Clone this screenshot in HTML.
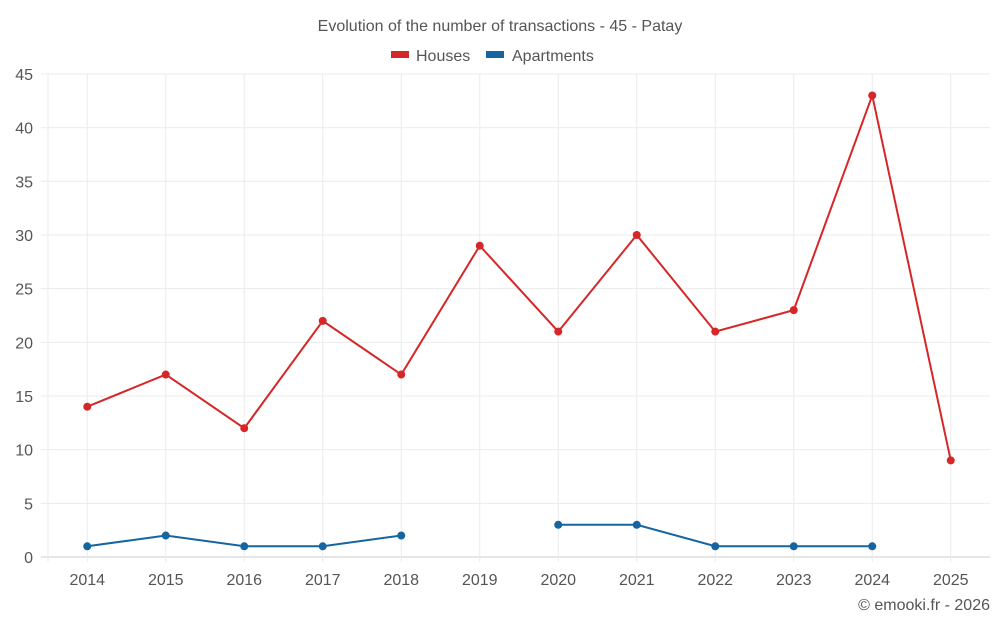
<!DOCTYPE html>
<html><head><meta charset="utf-8"><style>
body{margin:0;background:#fff;font-family:"Liberation Sans",Roboto,sans-serif}
svg text{font-family:"Liberation Sans",sans-serif}
</style></head><body>
<svg id="chart" width="1000" height="625">
<text x="500" y="31" text-anchor="middle" font-size="16" fill="#555">Evolution of the number of transactions - 45 - Patay</text>
<g>
<g><rect x="391" y="51" width="18" height="7" fill="#d62728"/><text x="416" y="61" font-size="16" fill="#555">Houses</text></g>
<g><rect x="486" y="51" width="18" height="7" fill="#1565a0"/><text x="512" y="61" font-size="16" fill="#555">Apartments</text></g>
</g>
<g id="grid"></g><g id="axes"></g><g id="series"></g>
<text x="990" y="610" text-anchor="end" font-size="16" fill="#555">© emooki.fr - 2026</text>
</svg>
<script>
const categories=["2014","2015","2016","2017","2018","2019","2020","2021","2022","2023","2024","2025"];
const houses=[14,17,12,22,17,29,21,30,21,23,43,9];
const apartments=[1,2,1,1,2,null,3,3,1,1,1,null];
const yTicks=[0,5,10,15,20,25,30,35,40,45];
const NS="http://www.w3.org/2000/svg";
const L=48,R=990,T=74,B=557,yMax=45;
const bw=(R-L)/categories.length;
const x=i=>L+bw*(i+0.5);
const y=v=>B-(v/yMax)*(B-T);
function mk(tag,attrs,parent,txt){const e=document.createElementNS(NS,tag);for(const k in attrs)e.setAttribute(k,attrs[k]);if(txt!=null)e.textContent=txt;parent.appendChild(e);return e;}
const grid=document.getElementById('grid'),axes=document.getElementById('axes'),ser=document.getElementById('series');
yTicks.forEach(t=>{
const g=mk('line',{x1:41,x2:R,y1:y(t),y2:y(t),stroke:t===0?'#ccc':'#ebebeb','stroke-width':1},grid);


const lb=mk('text',{x:33,y:y(t)+6,'text-anchor':'end','font-size':16,fill:'#555'},axes,t);


});
const lv=mk('line',{x1:L,x2:L,y1:T,y2:B+5,stroke:'#ebebeb','stroke-width':1},grid);


categories.forEach((c,i)=>{
const v=mk('line',{x1:x(i),x2:x(i),y1:T,y2:B+5,stroke:'#ebebeb','stroke-width':1},grid);


const lb=mk('text',{x:x(i),y:585,'text-anchor':'middle','font-size':16,fill:'#555'},axes,c);


});
function draw(data,color,name){
let segs=[],cur=[];
data.forEach((v,i)=>{if(v==null){if(cur.length)segs.push(cur);cur=[];}else cur.push([x(i),y(v)]);});
if(cur.length)segs.push(cur);
segs.forEach(s=>{
const p=mk('polyline',{points:s.map(q=>q.join(',')).join(' '),fill:'none',stroke:color,'stroke-width':2},ser);


});
data.forEach((v,i)=>{if(v==null)return;
const c=mk('circle',{cx:x(i),cy:y(v),r:4,fill:color},ser);


});
}
draw(houses,'#d62728','houses');
draw(apartments,'#1565a0','apartments');
</script>
</body></html>
